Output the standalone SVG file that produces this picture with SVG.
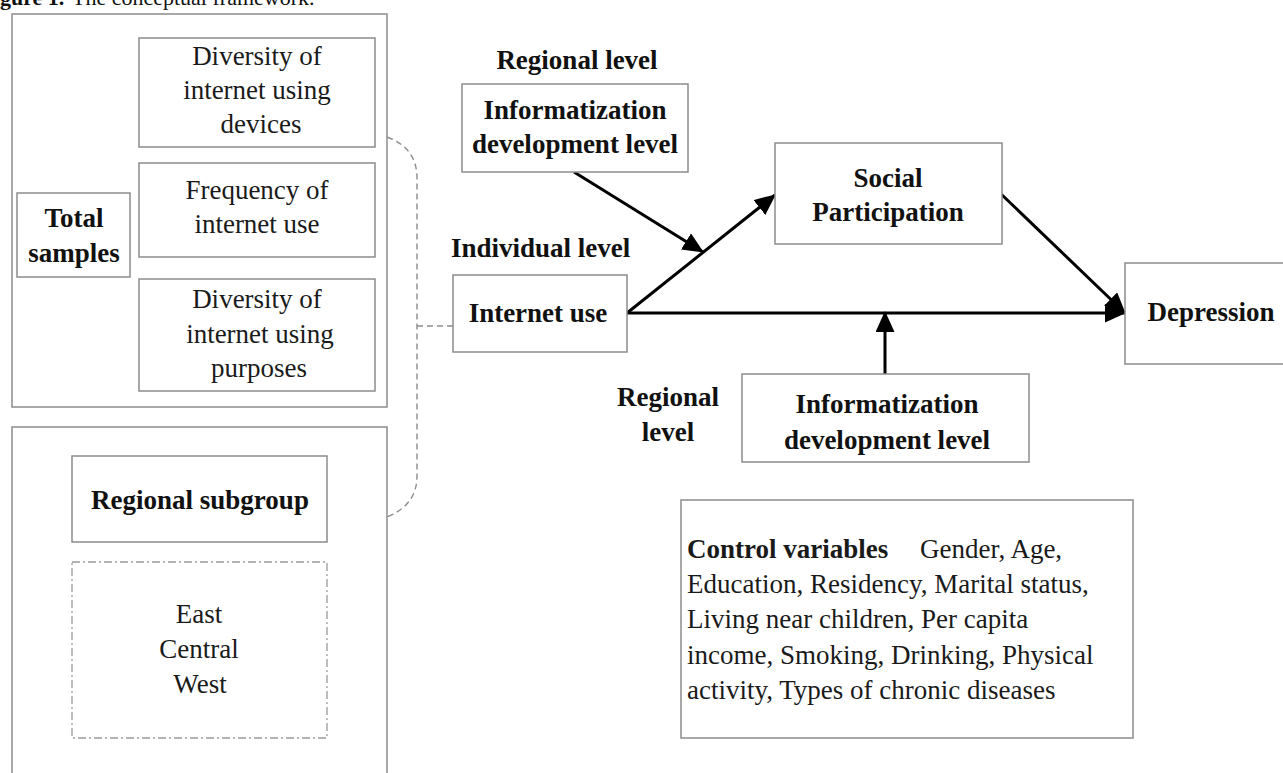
<svg xmlns="http://www.w3.org/2000/svg" width="1283" height="773" viewBox="0 0 1283 773">
<style>
  .box { fill: #ffffff; stroke: #8c8c8c; stroke-width: 1.5; }
  .dbox { fill: #ffffff; stroke: #9a9a9a; stroke-width: 1.3; stroke-dasharray: 8 3 2 3; }
  .t { font-family: "Liberation Serif", "Times New Roman", serif; font-size: 27px; fill: #1a1a1a; text-anchor: middle; }
  .b { font-family: "Liberation Serif", "Times New Roman", serif; font-size: 27px; font-weight: bold; fill: #111; text-anchor: middle; }
  .arrow { fill: none; stroke: #000; stroke-width: 3; marker-end: url(#ah); }
  .dash { fill: none; stroke: #8c8c8c; stroke-width: 1.4; stroke-dasharray: 6 4; }
</style>
<defs>
  <marker id="ah" markerUnits="userSpaceOnUse" markerWidth="21" markerHeight="19" viewBox="0 0 21 19" refX="20" refY="9.5" orient="auto">
    <path d="M0,0 L21,9.5 L0,19 z" fill="#000"/>
  </marker>
</defs>
<rect width="1283" height="773" fill="#ffffff"/>

<g id="title">
  <text x="0" y="5" style="font-family:'Liberation Serif','Times New Roman',serif;font-size:22px;fill:#111"><tspan font-weight="bold">gure 1.</tspan><tspan x="72">The conceptual framework.</tspan></text>
</g>

<g id="connectors">
  <path class="dash" d="M387,137 Q417,148 417,178 L417,476 Q417,505 387,517"/>
  <path class="dash" d="M417,326 L453,326"/>
  <path class="arrow" d="M627,313 L1125,313"/>
  <path class="arrow" d="M627,313 L775,195"/>
  <path class="arrow" d="M574,172 L703,252"/>
  <path class="arrow" d="M1000,193 L1125,313"/>
  <path class="arrow" d="M885,374 L885,312"/>
</g>

<g id="total-samples-group">
  <rect class="box" x="12" y="14" width="375" height="393"/>
</g>
<g id="diversity-devices">
  <rect class="box" x="139" y="38" width="236" height="109"/>
  <text class="t" x="257" y="65">Diversity of</text>
  <text class="t" x="257" y="99">internet using</text>
  <text class="t" x="261" y="133">devices</text>
</g>
<g id="frequency">
  <rect class="box" x="139" y="163" width="236" height="94"/>
  <text class="t" x="257" y="199">Frequency of</text>
  <text class="t" x="257" y="233">internet use</text>
</g>
<g id="diversity-purposes">
  <rect class="box" x="139" y="279" width="236" height="112"/>
  <text class="t" x="257" y="308">Diversity of</text>
  <text class="t" x="260" y="343">internet using</text>
  <text class="t" x="259" y="377">purposes</text>
</g>
<g id="total-samples">
  <rect class="box" x="17" y="193" width="113" height="84"/>
  <text class="b" x="74" y="227">Total</text>
  <text class="b" x="74" y="262">samples</text>
</g>

<g id="regional-subgroup-group">
  <rect class="box" x="12" y="427" width="375" height="360"/>
</g>
<g id="regional-subgroup">
  <rect class="box" x="72" y="456" width="255" height="86"/>
  <text class="b" x="200" y="509">Regional subgroup</text>
</g>
<g id="regions">
  <rect class="dbox" x="72" y="562" width="255" height="176"/>
  <text class="t" x="199" y="623">East</text>
  <text class="t" x="199" y="658">Central</text>
  <text class="t" x="200" y="693">West</text>
</g>

<g id="regional-level-top">
  <text class="b" x="577" y="69">Regional level</text>
</g>
<g id="informatization-top">
  <rect class="box" x="462" y="84" width="226" height="88"/>
  <text class="b" x="575" y="119">Informatization</text>
  <text class="b" x="575" y="153">development level</text>
</g>
<g id="individual-level">
  <text class="b" x="451" y="257" style="text-anchor:start">Individual level</text>
</g>
<g id="internet-use">
  <rect class="box" x="453" y="275" width="174" height="77"/>
  <text class="b" x="538" y="322">Internet use</text>
</g>
<g id="social-participation">
  <rect class="box" x="775" y="143" width="227" height="101"/>
  <text class="b" x="888" y="187">Social</text>
  <text class="b" x="888" y="221">Participation</text>
</g>
<g id="depression">
  <rect class="box" x="1125" y="263" width="200" height="101"/>
  <text class="b" x="1211" y="321">Depression</text>
</g>
<g id="regional-level-bottom">
  <text class="b" x="668" y="406">Regional</text>
  <text class="b" x="668" y="441">level</text>
</g>
<g id="informatization-bottom">
  <rect class="box" x="742" y="374" width="287" height="88"/>
  <text class="b" x="887" y="413">Informatization</text>
  <text class="b" x="887" y="449">development level</text>
</g>
<g id="control-variables">
  <rect class="box" x="681" y="500" width="452" height="238"/>
  <text class="t" x="687" y="558" style="text-anchor:start"><tspan font-weight="bold">Control variables</tspan><tspan x="920">Gender, Age,</tspan></text>
  <text class="t" x="687" y="593" style="text-anchor:start">Education, Residency, Marital status,</text>
  <text class="t" x="687" y="628" style="text-anchor:start">Living near children, Per capita</text>
  <text class="t" x="687" y="664" style="text-anchor:start">income, Smoking, Drinking, Physical</text>
  <text class="t" x="687" y="699" style="text-anchor:start">activity, Types of chronic diseases</text>
</g>
</svg>
